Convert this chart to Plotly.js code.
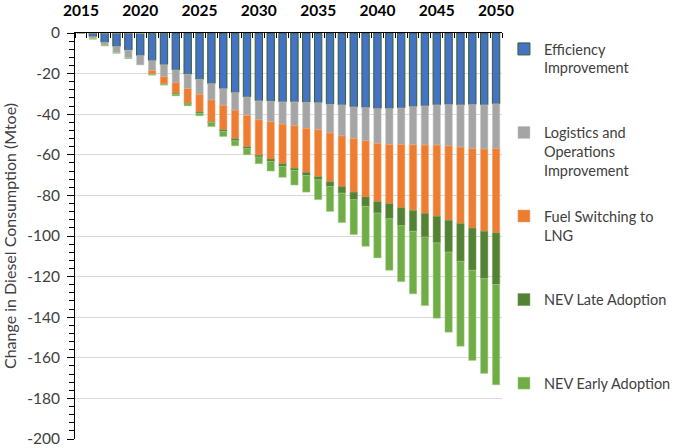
<!DOCTYPE html>
<html>
<head>
<meta charset="utf-8">
<script src="https://cdn.plot.ly/plotly-3.0.1.min.js"></script>
<style>
  html, body { margin: 0; padding: 0; background: #fff; }
  #chart { width: 685px; height: 448px; }
</style>
</head>
<body>
<div id="chart"></div>
<script>
const years = [
    2015, 2016, 2017, 2018, 2019, 2020, 2021, 2022, 2023, 2024, 2025, 2026,
    2027, 2028, 2029, 2030, 2031, 2032, 2033, 2034, 2035, 2036, 2037, 2038,
    2039, 2040, 2041, 2042, 2043, 2044, 2045, 2046, 2047, 2048, 2049, 2050
];

// Mtoe change per measure
const efficiency = [
    0, -1.8, -4.6, -6.6, -8.4, -11.1, -13.6, -15.6, -18.2, -20.3, -22.8, -24.9,
    -27.4, -29.3, -31.5, -33.4, -33.6, -33.9, -33.9, -34.1, -34.3, -35.1, -35.4, -36.4,
    -36.7, -37.2, -37.2, -36.9, -36.2, -35.9, -35.4, -35.2, -35.4, -35.2, -35.4, -34.9
];
const logistics = [
    0, -1.0, -1.5, -3.1, -3.9, -4.6, -4.9, -6.0, -6.2, -7.1, -7.4, -8.1,
    -8.2, -8.7, -9.0, -9.4, -10.2, -11.0, -11.8, -12.9, -13.4, -14.2, -15.3, -15.6,
    -16.4, -17.2, -17.7, -18.0, -18.9, -19.3, -19.8, -20.4, -20.8, -21.7, -21.8, -22.0
];
const lng = [
    0, 0, 0, 0, 0, 0, -1.8, -3.6, -5.4, -7.2, -8.7, -10.8,
    -12.1, -14.1, -15.6, -17.4, -18.3, -19.5, -20.9, -21.7, -23.1, -24.0, -25.0, -26.4,
    -27.7, -28.7, -29.2, -31.2, -32.4, -33.7, -35.1, -36.7, -37.7, -39.2, -40.5, -41.6
];
const nevLate = [
    0, 0, 0, 0, 0, 0, 0, 0, -0.5, -0.3, -0.6, -0.3,
    -0.8, -1.0, -0.9, -0.9, -1.2, -1.3, -1.1, -1.5, -1.5, -2.3, -3.2, -3.7,
    -4.6, -5.6, -7.4, -8.8, -10.2, -11.6, -13.1, -15.6, -18.6, -20.8, -23.3, -25.4
];
const nevEarly = [
    0, -0.3, -0.3, -0.3, -0.3, 0, -0.5, -0.5, -0.7, -1.0, -1.3, -2.0,
    -2.5, -2.5, -3.0, -3.3, -4.7, -5.4, -7.2, -8.2, -9.8, -12.3, -14.5, -17.2,
    -19.7, -22.1, -25.4, -27.6, -30.8, -33.8, -37.1, -39.5, -41.8, -44.4, -46.7, -49.4
];

const yTicks = [0, -20, -40, -60, -80, -100, -120, -140, -160, -180, -200];
const yTickText = ['0', '-20', '-40', '-60', '-80', '-100', '-120', '-140', '-160', '-180', '-200'];

const NB = '\u00a0';
const series = [
    { name: 'Efficiency<br>Improvement<br>' + NB, y: efficiency, color: '#4472c4', line: '#3b5e2b', lw: 1 },
    { name: 'Logistics and<br>Operations<br>Improvement', y: logistics, color: '#a5a5a5', line: '#c4c4c4', lw: 0.5 },
    { name: 'Fuel Switching to<br>LNG<br>' + NB, y: lng, color: '#ed7d31', line: '#f4a77a', lw: 0.5 },
    { name: 'NEV Late Adoption<br>' + NB + '<br>' + NB, y: nevLate, color: '#548235', line: '#6f9a55', lw: 0.5 },
    { name: 'NEV Early Adoption', y: nevEarly, color: '#70ad47', line: '#a9d18e', lw: 0.5 }
];

const traces = series.map((s, i) => ({
    type: 'bar',
    x: years,
    y: s.y,
    name: s.name,
    legendgroup: 'g' + i,
    marker: { color: s.color, line: { color: s.line, width: s.lw } },
    hoverinfo: 'x+y'
}));

const layout = {
    width: 685,
    height: 448,
    margin: { l: 75, r: 171, t: 33, b: 9 },
    paper_bgcolor: '#fff',
    plot_bgcolor: '#fff',
    font: { family: 'Lato, "Liberation Sans", sans-serif', color: '#404040' },
    barmode: 'relative',
    bargap: 0.38,
    xaxis: {
        side: 'top',
        range: [2014.5, 2050.5],
        tickmode: 'linear',
        tick0: 2015,
        dtick: 5,
        ticks: '',
        ticklabelstandoff: 9,
        tickfont: { size: 15.5, color: '#000', weight: 'bold' },
        showgrid: false,
        zeroline: false,
        showline: true,
        linecolor: '#000',
        linewidth: 1.5,
        minor: { ticks: 'inside', tick0: 2014.5, dtick: 1, ticklen: 5, tickcolor: '#000', showgrid: false },
        fixedrange: true
    },
    yaxis: {
        range: [-200, 0],
        tickmode: 'array',
        tickvals: yTicks,
        ticktext: yTickText,
        ticks: 'outside',
        ticklen: 7,
        tickcolor: '#000',
        ticklabelstandoff: 4,
        tickfont: { size: 15.5, color: '#404040' },
        showgrid: true,
        gridcolor: '#d9d9d9',
        gridwidth: 1,
        zeroline: false,
        showline: true,
        linecolor: '#000',
        linewidth: 1,
        minor: { ticks: 'outside', tickmode: 'linear', tick0: 0, dtick: 4, ticklen: 5, tickcolor: '#000', showgrid: false },
        title: { text: 'Change in Diesel Consumption (Mtoe)', font: { size: 16, color: '#404040' }, standoff: 6 },
        automargin: false,
        fixedrange: true
    },
    showlegend: true,
    legend: {
        x: (516 - 75) / 439,
        y: 1,
        xanchor: 'left',
        yanchor: 'top',
        valign: 'top',
        traceorder: 'grouped',
        tracegroupgap: 24,
        bgcolor: 'rgba(0,0,0,0)',
        font: { size: 14.5, color: '#404040' }
    }
};

Plotly.newPlot('chart', traces, layout, { displayModeBar: false, staticPlot: true });
</script>
</body>
</html>
